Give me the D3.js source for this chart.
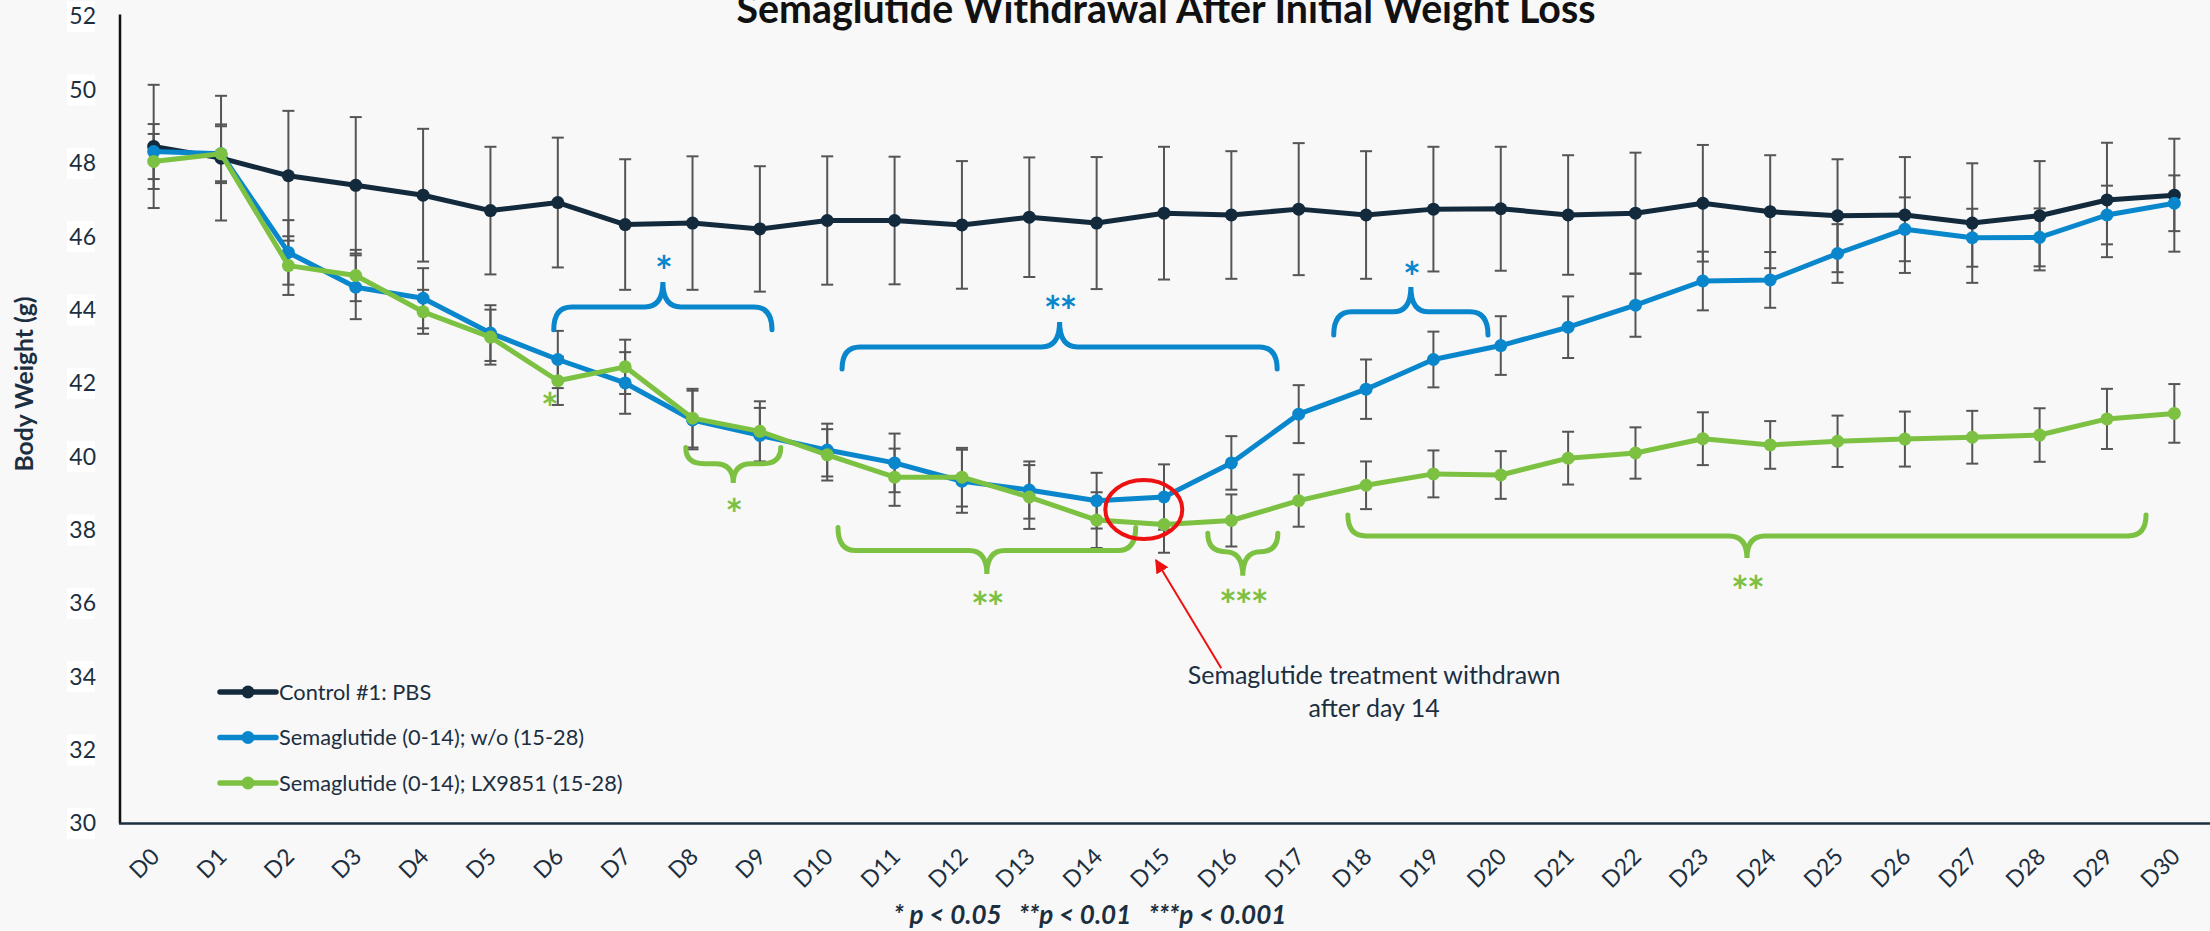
<!DOCTYPE html>
<html>
<head>
<meta charset="utf-8">
<script src="https://cdn.jsdelivr.net/npm/d3@7"></script>
<style>
  html, body { margin: 0; padding: 0; background: #f8f8f8; overflow: hidden; }
  svg { display: block; }
  text { font-family: Lato, "Open Sans", sans-serif; }
</style>
</head>
<body>
<svg id="chart"></svg>
<script>
// ---- data ----
const days = d3.range(31).map(i => "D" + i);

const control    = [48.46, 48.14, 47.66, 47.40, 47.13, 46.71, 46.93, 46.33, 46.37, 46.21, 46.44, 46.44, 46.32, 46.53, 46.37, 46.64,
                    46.59, 46.75, 46.59, 46.75, 46.76, 46.59, 46.64, 46.91, 46.68, 46.57, 46.59, 46.37, 46.57, 47.00, 47.13];
const controlErr = [1.68, 1.70, 1.77, 1.86, 1.81, 1.74, 1.77, 1.78, 1.82, 1.71, 1.75, 1.74, 1.74, 1.63, 1.80, 1.81,
                    1.74, 1.80, 1.74, 1.70, 1.69, 1.63, 1.65, 1.59, 1.54, 1.54, 1.58, 1.63, 1.49, 1.56, 1.54];

const semaWo     = [48.32, 48.26, 45.57, 44.62, 44.32, 43.37, 42.65, 42.01, 41.00, 40.58, 40.18, 39.83, 39.33, 39.09, 38.80, 38.90,
                    39.83, 41.16, 41.84, 42.65, 43.03, 43.53, 44.13, 44.79, 44.82, 45.54, 46.20, 45.97, 45.98, 46.59, 46.91];
const semaWoErr  = [0.75, 0.75, 0.88, 0.87, 0.82, 0.76, 0.78, 0.84, 0.80, 0.75, 0.72, 0.80, 0.86, 0.78, 0.76, 0.89,
                    0.73, 0.79, 0.81, 0.76, 0.80, 0.84, 0.86, 0.80, 0.76, 0.80, 0.87, 0.79, 0.79, 0.80, 0.76];

const semaLx     = [48.05, 48.26, 45.21, 44.94, 43.95, 43.26, 42.07, 42.45, 41.05, 40.69, 40.05, 39.44, 39.44, 38.90, 38.27, 38.15,
                    38.26, 38.80, 39.22, 39.53, 39.50, 39.96, 40.10, 40.49, 40.32, 40.42, 40.48, 40.53, 40.59, 41.03, 41.18];
const semaLxErr  = [0.75, 0.80, 0.80, 0.70, 0.60, 0.75, 0.66, 0.74, 0.80, 0.82, 0.70, 0.78, 0.80, 0.87, 0.76, 0.77,
                    0.71, 0.71, 0.65, 0.64, 0.65, 0.72, 0.70, 0.72, 0.65, 0.70, 0.75, 0.72, 0.73, 0.82, 0.80];

const seriesNames = ["Control #1: PBS", "Semaglutide (0-14); w/o (15-28)", "Semaglutide (0-14); LX9851 (15-28)"];
const yTicks = d3.range(30, 53, 2);

// significance brackets: day-index span, brace levels (g), label and its level
const blueBraces  = [
  { from: 5.94, to: 9.18, end: 43.46, bar: 44.08, tip: 44.76, label: "*", at: 45.28 },
  { from: 10.22, to: 16.68, end: 42.39, bar: 42.99, tip: 43.67, label: "**", at: 44.19 },
  { from: 17.52, to: 19.81, end: 43.32, bar: 43.95, tip: 44.63, label: "*", at: 45.10 }
];
const greenBraces = [
  { from: 7.90, to: 9.31, end: 40.25, bar: 39.81, tip: 39.28, label: "*", at: 38.64 },
  { from: 10.16, to: 14.58, end: 38.07, bar: 37.44, tip: 36.80, label: "**", at: 36.11 },
  { from: 15.65, to: 16.69, end: 37.91, bar: 37.41, tip: 36.75, label: "***", at: 36.16 },
  { from: 17.73, to: 29.58, end: 38.41, bar: 37.84, tip: 37.24, label: "**", at: 36.53 }
];
const greenStar = { day: 5.87, at: 41.52, label: "*" };
const noteLines = ["Semaglutide treatment withdrawn", "after day 14"];
const titleText = "Semaglutide Withdrawal After Initial Weight Loss";
const pText = "* p < 0.05   **p < 0.01   ***p < 0.001";

// ---- layout ----
const W = 2210, H = 931;
const colors = ["#132a3d", "#0a87cc", "#7cc142"];
const textColor = "#1c2f40";
const starFont = "'Open Sans', sans-serif";
const starSize = 42;

const svg = d3.select("#chart").attr("width", W).attr("height", H);
svg.append("rect").attr("width", W).attr("height", H).attr("fill", "#f8f8f8");

const x = d3.scalePoint().domain(days).range([120, 2208]).padding(0.5);
const xi = d3.scaleLinear().domain([0, 30]).range([x("D0"), x("D30")]);
const y = d3.scaleLinear().domain([30, 52]).range([823.4, 16.6]);

function fitWidth(sel, target) {
  const w = sel.node().getComputedTextLength();
  const fs = parseFloat(sel.attr("font-size"));
  sel.attr("font-size", fs * target / w);
}

// title (cropped at the top edge, as in the source image)
const title = svg.append("text")
  .attr("x", 1166).attr("y", 23)
  .attr("text-anchor", "middle")
  .attr("font-weight", "bold")
  .attr("font-size", 38)
  .attr("fill", "#111")
  .text(titleText);
fitWidth(title, 859);

// y axis
const yAxis = svg.append("g")
  .attr("transform", "translate(120,0)")
  .call(d3.axisLeft(y).tickValues(yTicks).tickSize(0).tickPadding(24));
yAxis.select(".domain").attr("stroke", "#111").attr("stroke-width", 2.5)
  .attr("d", `M0,${y(52) - 2}V${y(30)}`);
yAxis.selectAll(".tick text")
  .attr("font-size", 23)
  .attr("fill", textColor)
  .attr("font-family", "Lato, sans-serif");
yAxis.selectAll(".tick").insert("rect", "text")
  .attr("x", -53).attr("y", -16).attr("width", 28).attr("height", 31)
  .attr("fill", "#ffffff");

// y label
const yLabel = svg.append("text")
  .attr("transform", "translate(33,384) rotate(-90)")
  .attr("text-anchor", "middle")
  .attr("font-weight", "bold")
  .attr("font-size", 20)
  .attr("fill", textColor)
  .text("Body Weight (g)");
fitWidth(yLabel, 175);

// x axis
const xAxis = svg.append("g")
  .attr("transform", `translate(0,${y(30)})`)
  .call(d3.axisBottom(x).tickSize(0));
xAxis.select(".domain").attr("stroke", textColor).attr("stroke-width", 2.5)
  .attr("d", `M119,0H${W}`);
xAxis.selectAll(".tick text")
  .attr("font-size", 23)
  .attr("fill", textColor)
  .attr("text-anchor", "end")
  .attr("x", 0).attr("y", 0).attr("dy", "0.35em")
  .attr("transform", "translate(1,29) rotate(-45)");

// error bars
const series = [
  { name: seriesNames[0], vals: control, err: controlErr, color: colors[0] },
  { name: seriesNames[1], vals: semaWo, err: semaWoErr, color: colors[1] },
  { name: seriesNames[2], vals: semaLx, err: semaLxErr, color: colors[2] }
];

const errG = svg.append("g").attr("stroke", "#555").attr("stroke-width", 2).attr("fill", "none");
series.forEach(s => {
  const pts = days.map((d, i) => ({ d, v: s.vals[i], e: s.err[i] }));
  const g = errG.selectAll(null).data(pts).enter().append("g");
  g.append("line")
    .attr("x1", p => x(p.d)).attr("x2", p => x(p.d))
    .attr("y1", p => y(p.v + p.e)).attr("y2", p => y(p.v - p.e));
  [1, -1].forEach(sign => {
    g.append("line")
      .attr("x1", p => x(p.d) - 6).attr("x2", p => x(p.d) + 6)
      .attr("y1", p => y(p.v + sign * p.e)).attr("y2", p => y(p.v + sign * p.e));
  });
});

// lines and markers
const line = d3.line().x((v, i) => x(days[i])).y(v => y(v));
series.forEach(s => {
  svg.append("path")
    .datum(s.vals)
    .attr("d", line)
    .attr("fill", "none")
    .attr("stroke", s.color)
    .attr("stroke-width", 5)
    .attr("stroke-linejoin", "round");
  svg.append("g").selectAll("circle")
    .data(s.vals)
    .enter().append("circle")
    .attr("cx", (v, i) => x(days[i]))
    .attr("cy", v => y(v))
    .attr("r", 6.5)
    .attr("fill", s.color);
});

// braces
function bracePath(b) {
  const x1 = xi(b.from), x2 = xi(b.to), xm = (x1 + x2) / 2;
  const ye = y(b.end), yb = y(b.bar), yt = y(b.tip);
  const r = Math.min(18, (x2 - x1) / 4);
  return `M${x1},${ye}Q${x1},${yb} ${x1 + r},${yb}L${xm - r},${yb}Q${xm},${yb} ${xm},${yt}` +
         `Q${xm},${yb} ${xm + r},${yb}L${x2 - r},${yb}Q${x2},${yb} ${x2},${ye}`;
}
function starText(g, list, col) {
  g.selectAll("text").data(list).enter().append("text")
    .attr("x", b => b.day !== undefined ? xi(b.day) : xi((b.from + b.to) / 2))
    .attr("y", b => y(b.at) + starSize * 0.56)
    .attr("text-anchor", "middle")
    .attr("font-family", starFont)
    .attr("font-weight", "bold")
    .attr("font-size", starSize)
    .attr("letter-spacing", -2)
    .attr("fill", col)
    .text(b => b.label);
}
[[blueBraces, colors[1]], [greenBraces, colors[2]]].forEach(([list, col]) => {
  const g = svg.append("g");
  g.selectAll("path").data(list).enter().append("path")
    .attr("d", bracePath)
    .attr("fill", "none")
    .attr("stroke", col)
    .attr("stroke-width", 5)
    .attr("stroke-linecap", "round");
  starText(g, list, col);
});
starText(svg.append("g"), [greenStar], colors[2]);

// withdrawal annotation
svg.append("ellipse")
  .attr("cx", xi(14.7)).attr("cy", y(38.56))
  .attr("rx", 38.5).attr("ry", 29.5)
  .attr("fill", "none").attr("stroke", "#ee1111").attr("stroke-width", 4);

svg.append("defs").append("marker")
  .attr("id", "arrow").attr("viewBox", "0 0 10 10")
  .attr("refX", 9).attr("refY", 5)
  .attr("markerWidth", 7).attr("markerHeight", 7)
  .attr("orient", "auto-start-reverse")
  .append("path").attr("d", "M0,0L10,5L0,10z").attr("fill", "#ee1111");

svg.append("line")
  .attr("x1", xi(15.85)).attr("y1", y(34.23))
  .attr("x2", xi(14.88)).attr("y2", y(37.18))
  .attr("stroke", "#ee1111").attr("stroke-width", 2)
  .attr("marker-end", "url(#arrow)");

const note = svg.append("g").attr("fill", textColor).attr("text-anchor", "middle");
const n1 = note.append("text").attr("x", xi(18.12)).attr("y", y(33.79)).attr("font-size", 23).text(noteLines[0]);
fitWidth(n1, 373);
note.append("text").attr("x", xi(18.12)).attr("y", y(32.91)).attr("font-size", n1.attr("font-size")).text(noteLines[1]);

// legend
const legend = svg.append("g").attr("transform", "translate(220,692)");
const items = legend.selectAll("g").data(series).enter().append("g")
  .attr("transform", (d, i) => `translate(0,${i * 45.5})`);
items.append("line").attr("x1", 0).attr("x2", 56)
  .attr("stroke", d => d.color).attr("stroke-width", 5.5).attr("stroke-linecap", "round");
items.append("circle").attr("cx", 28).attr("r", 6.5).attr("fill", d => d.color);
const legTexts = items.append("text")
  .attr("x", 59).attr("dy", "0.35em")
  .attr("font-size", 22)
  .attr("fill", textColor)
  .text(d => d.name);
const longest = legTexts.filter((d, i) => i === 2);
fitWidth(longest, 344);
legTexts.attr("font-size", longest.attr("font-size"));

// p-value key
const pt = svg.append("text")
  .attr("x", 1090).attr("y", 924)
  .attr("text-anchor", "middle")
  .attr("font-weight", "bold")
  .attr("font-style", "italic")
  .attr("font-size", 22)
  .attr("fill", textColor)
  .style("white-space", "pre")
  .text(pText);
fitWidth(pt, 393);
</script>
</body>
</html>
